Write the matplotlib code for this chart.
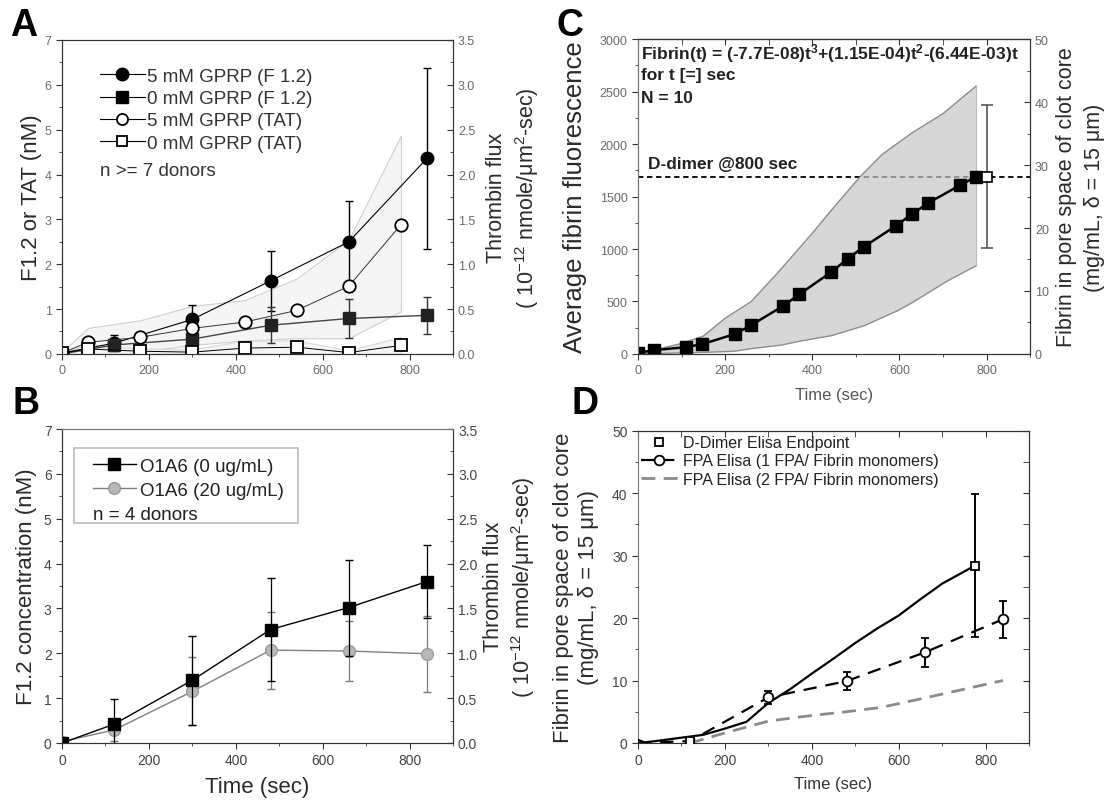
import matplotlib
matplotlib.use("Agg")
import matplotlib.pyplot as plt
import numpy as np
from matplotlib.lines import Line2D
from matplotlib.patches import Rectangle
from matplotlib.ticker import MultipleLocator, FormatStrFormatter

# =========================================================
# Global style
# =========================================================
plt.rcParams['font.family'] = ['Liberation Sans', 'DejaVu Sans']
plt.rcParams['mathtext.fontset'] = 'custom'
plt.rcParams['mathtext.rm'] = 'Liberation Sans'
plt.rcParams['mathtext.bf'] = 'Liberation Sans:bold'
plt.rcParams['mathtext.default'] = 'regular'

TICK_GRAY = '#6a6a6a'
TEXT_DARK = '#2a2a2a'
FLUX_LABEL = "Thrombin flux\n( 10$^{-12}$ nmole/\u03bcm$^{2}$-sec)"
PORE_LABEL = "Fibrin in pore space of clot core\n(mg/mL, \u03b4 = 15 \u03bcm)"

# =========================================================
# Data - panel A (thrombin generation with / without GPRP)
# =========================================================
t_f12 = [0, 120, 300, 480, 660, 840]
f12_5mm = [0.02, 0.24, 0.77, 1.63, 2.50, 4.36]
f12_5mm_err = [0.0, 0.18, 0.32, 0.67, 0.92, 2.02]
f12_0mm = [0.0, 0.20, 0.33, 0.64, 0.79, 0.86]
f12_0mm_err = [0.0, 0.10, 0.20, 0.40, 0.43, 0.42]

t_tat = [0, 60, 180, 300, 420, 540, 660, 780]
tat_5mm = [0.02, 0.26, 0.37, 0.57, 0.71, 0.97, 1.51, 2.88]
tat_0mm = [0.02, 0.11, 0.06, 0.04, 0.13, 0.15, 0.03, 0.19]
tat_5mm_hi = [0.05, 0.58, 0.75, 1.07, 1.20, 1.68, 2.55, 4.87]
tat_5mm_lo = [0.0, 0.02, 0.05, 0.20, 0.30, 0.35, 0.35, 0.95]
tat_0mm_hi = [0.05, 0.20, 0.12, 0.10, 0.30, 0.30, 0.08, 0.38]
tat_0mm_lo = [0.0, 0.0, 0.0, 0.0, 0.0, 0.0, 0.0, 0.0]

# =========================================================
# Data - panel B (O1A6 antibody)
# =========================================================
t_b = [0, 120, 300, 480, 660, 840]
o1a6_0 = [0.0, 0.42, 1.40, 2.53, 3.02, 3.60]
o1a6_0_err = [0.0, 0.55, 0.99, 1.15, 1.07, 0.82]
o1a6_20 = [0.03, 0.29, 1.15, 2.07, 2.05, 1.99]
o1a6_20_err = [0.0, 0.24, 0.76, 0.86, 0.67, 0.85]

# =========================================================
# Data - panel C (fibrin fluorescence)
# =========================================================
t_c = [0, 37, 111, 148, 222, 259, 333, 370, 444, 481, 518, 592, 629, 666, 740, 776]
fluor_c = [11, 36, 65, 94, 189, 272, 457, 568, 781, 906, 1020, 1221, 1333, 1438, 1610, 1689]
t_band_hi = [0, 50, 100, 150, 200, 260, 320, 400, 450, 510, 560, 630, 700, 776]
band_hi = [0, 50, 100, 170, 340, 500, 770, 1150, 1400, 1690, 1900, 2110, 2290, 2553]
t_band_lo = [0, 150, 220, 260, 330, 370, 445, 520, 595, 630, 710, 776]
band_lo = [0, 15, 25, 50, 85, 120, 175, 270, 410, 490, 695, 840]
ddimer_t = [800]
ddimer_c = [1689]
ddimer_c_err = [680]
DDIMER_LEVEL = 1685

# =========================================================
# Data - panel D (fibrin in pore space)
# =========================================================
t_d_fit = [0, 15, 40, 100, 150, 200, 250, 300, 350, 400, 450, 500, 550, 600, 650, 700, 776]
fibrin_d_fit = [0.5, 0.1, 0.3, 0.85, 1.3, 2.3, 3.4, 6.4, 8.6, 11.1, 13.5, 16.0, 18.3, 20.4, 23.0, 25.5, 28.4]
t_ddimer_d = [120, 776]
ddimer_d = [0.3, 28.4]
ddimer_d_err = [0.0, 11.4]
t_fpa1 = [0, 120, 300, 480, 660, 840]
fpa1 = [0.0, 0.3, 7.3, 9.9, 14.5, 19.8]
fpa1_err = [0.0, 0.0, 1.1, 1.45, 2.3, 3.0]
t_fpa2 = [120, 200, 300, 400, 480, 560, 660, 750, 840]
fpa2 = [0.0, 1.6, 3.5, 4.4, 5.0, 5.7, 7.2, 8.6, 10.0]


def style_axis(ax, tick_color, labelsize):
    ax.tick_params(axis='both', which='both', colors='#333333', labelcolor=tick_color,
                   labelsize=labelsize)
    ax.tick_params(which='major', length=4)
    ax.tick_params(which='minor', length=2.5)
    for s in ax.spines.values():
        s.set_color('#333333')


def time_axis(ax):
    ax.set_xlim(0, 900)
    ax.xaxis.set_major_locator(MultipleLocator(200))
    ax.xaxis.set_minor_locator(MultipleLocator(100))


def inner_top_ticks(ax):
    sec = ax.secondary_xaxis('top')
    sec.xaxis.set_major_locator(MultipleLocator(200))
    sec.xaxis.set_minor_locator(MultipleLocator(100))
    sec.tick_params(which='both', direction='in', labeltop=False, colors='#333333')
    sec.tick_params(which='major', length=4)
    sec.tick_params(which='minor', length=4)
    return sec


# =========================================================
# Figure
# =========================================================
fig = plt.figure(figsize=(11.14, 8.03), dpi=100)

pos_a = [0.0557, 0.558, 0.351, 0.391]
pos_b = [0.0557, 0.0735, 0.351, 0.391]
pos_c = [0.5727, 0.558, 0.352, 0.392]
pos_d = [0.5727, 0.0735, 0.351, 0.389]

# ---------------------------------------------------------
# Panel A
# ---------------------------------------------------------
ax = fig.add_axes(pos_a)
ax.fill_between(t_tat, tat_5mm_lo, tat_5mm_hi, facecolor='#f5f5f5', edgecolor='#cfcfcf', lw=0.8, zorder=1)
ax.fill_between(t_tat, tat_0mm_lo, tat_0mm_hi, facecolor='#f5f5f5', edgecolor='#d8d8d8', lw=0.8, zorder=1)
ax.errorbar(t_f12, f12_5mm, yerr=f12_5mm_err, color='black', lw=0.8, marker='o', ms=9,
            mfc='black', mec='black', ecolor='black', elinewidth=1, capsize=3, zorder=4)
ax.errorbar(t_f12, f12_0mm, yerr=f12_0mm_err, color='#444444', lw=1, marker='s', ms=8,
            mfc='#222222', mec='#222222', ecolor='#333333', elinewidth=1, capsize=3, zorder=4)
ax.plot(t_tat, tat_5mm, color='#333333', lw=0.7, marker='o', ms=9, mfc='white', mec='black', mew=1.3, zorder=5)
ax.plot(t_tat, tat_0mm, color='black', lw=0.7, marker='s', ms=8, mfc='white', mec='black', mew=1.3, zorder=5)
time_axis(ax)
ax.set_ylim(0, 7)
ax.yaxis.set_major_locator(MultipleLocator(1))
ax.yaxis.set_minor_locator(MultipleLocator(0.5))
style_axis(ax, TICK_GRAY, 9)
ax.set_ylabel("F1.2 or TAT (nM)", fontsize=16, color=TEXT_DARK, labelpad=2)

handles_a = [
    Line2D([], [], color='black', lw=0.8, marker='o', ms=9, mfc='black', mec='black'),
    Line2D([], [], color='black', lw=0.8, marker='s', ms=8, mfc='black', mec='black'),
    Line2D([], [], color='black', lw=0.8, marker='o', ms=8, mfc='white', mec='black', mew=1.3),
    Line2D([], [], color='black', lw=0.8, marker='s', ms=7, mfc='white', mec='black', mew=1.3),
]
labels_a = ["5 mM GPRP (F 1.2)", "0 mM GPRP (F 1.2)", "5 mM GPRP (TAT)", "0 mM GPRP (TAT)"]
ax.legend(handles_a, labels_a, loc='upper left', bbox_to_anchor=(0.097, 0.912), frameon=False,
          fontsize=13.5, handlelength=2.4, handletextpad=0.1, labelspacing=0.28, borderpad=0,
          borderaxespad=0, labelcolor='#333333')
ax.text(0.097, 0.585, "n >= 7 donors", transform=ax.transAxes, fontsize=13.5, color='#333333',
        va='center', ha='left')

ax2 = ax.twinx()
ax2.set_ylim(0, 3.5)
ax2.yaxis.set_major_locator(MultipleLocator(0.5))
ax2.yaxis.set_minor_locator(MultipleLocator(0.25))
ax2.yaxis.set_major_formatter(FormatStrFormatter('%.1f'))
style_axis(ax2, TICK_GRAY, 9)
ax2.tick_params(axis='y', which='both', direction='in')
ax2.set_ylabel(FLUX_LABEL, fontsize=15.5, color=TEXT_DARK, labelpad=8, linespacing=1.25)

fig.text(0.009, 0.955, "A", fontsize=27, fontweight='bold', color='black')

# ---------------------------------------------------------
# Panel B
# ---------------------------------------------------------
ax = fig.add_axes(pos_b)
ax.errorbar(t_b, o1a6_0, yerr=o1a6_0_err, color='black', lw=1, marker='s', ms=8,
            mfc='black', mec='black', ecolor='black', elinewidth=0.9, capsize=3, zorder=4)
ax.errorbar(t_b, o1a6_20, yerr=o1a6_20_err, color='#808080', lw=1, marker='o', ms=8.5,
            mfc='#b8b8b8', mec='#9a9a9a', ecolor='#7a7a7a', elinewidth=0.9, capsize=3, zorder=3)
time_axis(ax)
ax.set_ylim(0, 7)
ax.yaxis.set_major_locator(MultipleLocator(1))
ax.yaxis.set_minor_locator(MultipleLocator(0.5))
style_axis(ax, '#444444', 10)
ax.spines['top'].set_color('#777777')
ax.set_ylabel("F1.2 concentration (nM)", fontsize=16, color=TEXT_DARK, labelpad=5)
ax.set_xlabel("Time (sec)", fontsize=16, color=TEXT_DARK, labelpad=6)

ax.add_patch(Rectangle((0.031, 0.70), 0.573, 0.239, transform=ax.transAxes, facecolor='white',
                       edgecolor='#bdbdbd', lw=1.2, zorder=6))
handles_b = [
    Line2D([], [], color='black', lw=1, marker='s', ms=8, mfc='black', mec='black'),
    Line2D([], [], color='#808080', lw=1, marker='o', ms=8.5, mfc='#b8b8b8', mec='#9a9a9a'),
]
leg = ax.legend(handles_b, ["O1A6 (0 ug/mL)", "O1A6 (20 ug/mL)"], loc='upper left',
                bbox_to_anchor=(0.078, 0.908), frameon=False, fontsize=13.5, handlelength=2.3,
                handletextpad=0.25, labelspacing=0.35, borderpad=0, borderaxespad=0,
                labelcolor='#222222')
leg.set_zorder(7)
ax.text(0.078, 0.729, "n = 4 donors", transform=ax.transAxes, fontsize=13.5, color='#222222',
        va='center', ha='left', zorder=7)

ax2 = ax.twinx()
ax2.set_ylim(0, 3.5)
ax2.yaxis.set_major_locator(MultipleLocator(0.5))
ax2.yaxis.set_minor_locator(MultipleLocator(0.25))
ax2.yaxis.set_major_formatter(FormatStrFormatter('%.1f'))
style_axis(ax2, '#444444', 10)
ax2.spines['top'].set_color('#777777')
ax2.tick_params(axis='y', which='both', direction='in')
ax2.set_ylabel(FLUX_LABEL, fontsize=15.5, color=TEXT_DARK, labelpad=4, linespacing=1.25)

fig.text(0.011, 0.484, "B", fontsize=27, fontweight='bold', color='black')

# ---------------------------------------------------------
# Panel C
# ---------------------------------------------------------
ax = fig.add_axes(pos_c)
ax.axhline(DDIMER_LEVEL, color='black', lw=1.3, ls=(0, (3, 2)), zorder=1)
t_grid = sorted(set(t_band_hi) | set(t_band_lo))
hi_g = np.interp(t_grid, t_band_hi, band_hi)
lo_g = np.interp(t_grid, t_band_lo, band_lo)
ax.fill_between(t_grid, lo_g, hi_g, facecolor='#c6c6c6', alpha=0.7, edgecolor='none', zorder=2)
ax.plot(t_band_hi, band_hi, color='#8c8c8c', lw=1, zorder=3)
ax.plot(t_band_lo, band_lo, color='#8c8c8c', lw=1, zorder=3)
ax.plot([t_band_hi[-1], t_band_hi[-1]], [band_lo[-1], band_hi[-1]], color='#bcbcbc', lw=0.8, zorder=3)
ax.plot(t_c, fluor_c, color='black', lw=1.8, marker='s', ms=8, mfc='black', mec='black', zorder=4)
ax.errorbar(ddimer_t, ddimer_c, yerr=ddimer_c_err, color='#555555', lw=0, marker='s', ms=7,
            mfc='white', mec='black', mew=1.2, ecolor='#555555', elinewidth=1.2, capsize=4, zorder=5)
time_axis(ax)
ax.set_ylim(0, 3000)
ax.yaxis.set_major_locator(MultipleLocator(500))
ax.yaxis.set_minor_locator(MultipleLocator(250))
style_axis(ax, TICK_GRAY, 9)
ax.spines['left'].set_color('#777777')
inner_top_ticks(ax)
ax.set_ylabel("Average fibrin fluorescence", fontsize=18.5, color=TEXT_DARK, labelpad=9)
ax.set_xlabel("Time (sec)", fontsize=12, color='#555555', labelpad=8)
ax.text(0.008, 0.957, "Fibrin(t) = (-7.7E-08)t$^{3}$+(1.15E-04)t$^{2}$-(6.44E-03)t",
        transform=ax.transAxes, fontsize=12.5, fontweight='bold', color='#222222', va='center')
ax.text(0.008, 0.887, "for t [=] sec", transform=ax.transAxes, fontsize=12.5,
        fontweight='bold', color='#222222', va='center')
ax.text(0.008, 0.815, "N = 10", transform=ax.transAxes, fontsize=12.5,
        fontweight='bold', color='#222222', va='center')
ax.text(0.025, 0.605, "D-dimer @800 sec", transform=ax.transAxes, fontsize=12.4,
        fontweight='bold', color='#222222', va='center')

ax2 = ax.twinx()
ax2.set_ylim(0, 50)
ax2.yaxis.set_major_locator(MultipleLocator(10))
ax2.yaxis.set_minor_locator(MultipleLocator(5))
style_axis(ax2, TICK_GRAY, 9)
ax2.tick_params(axis='y', which='both', direction='in')
ax2.spines['left'].set_color('#777777')
ax2.set_ylabel(PORE_LABEL, fontsize=15.5, color=TEXT_DARK, labelpad=5, linespacing=1.45)

fig.text(0.500, 0.955, "C", fontsize=27, fontweight='bold', color='black')

# ---------------------------------------------------------
# Panel D
# ---------------------------------------------------------
ax = fig.add_axes(pos_d)
ax.plot(t_d_fit, fibrin_d_fit, color='black', lw=1.6, zorder=3)
ax.plot(t_fpa2, fpa2, color='#8a8a8a', lw=2, dashes=(5, 3), zorder=2)
ax.plot(t_fpa1, fpa1, color='black', lw=1.6, dashes=(6, 4), zorder=3)
ax.errorbar(t_fpa1[2:], fpa1[2:], yerr=fpa1_err[2:], lw=0, marker='o', ms=7, mfc='white',
            mec='black', mew=1.3, ecolor='black', elinewidth=1.4, capsize=3, zorder=5)
ax.errorbar(t_ddimer_d, ddimer_d, yerr=ddimer_d_err, lw=0, marker='s', ms=6, mfc='white',
            mec='black', mew=1.3, ecolor='black', elinewidth=1.4, capsize=3, zorder=5)
time_axis(ax)
ax.set_ylim(0, 50)
ax.yaxis.set_major_locator(MultipleLocator(10))
ax.yaxis.set_minor_locator(MultipleLocator(5))
style_axis(ax, '#444444', 10)
ax.spines['left'].set_color('#777777')
inner_top_ticks(ax)
sec_r = ax.secondary_yaxis('right')
sec_r.yaxis.set_major_locator(MultipleLocator(10))
sec_r.yaxis.set_minor_locator(MultipleLocator(5))
sec_r.tick_params(which='both', direction='in', labelright=False, colors='#333333', length=4)
ax.set_ylabel(PORE_LABEL, fontsize=16, color=TEXT_DARK, labelpad=9, linespacing=1.3)
ax.set_xlabel("Time (sec)", fontsize=12, color='#333333', labelpad=6)

handles_d = [
    Line2D([], [], lw=0, marker='s', ms=6, mfc='white', mec='black', mew=1.3),
    Line2D([], [], color='black', lw=1.6, dashes=(6, 3), marker='o', ms=7, mfc='white', mec='black', mew=1.3),
    Line2D([], [], color='#8a8a8a', lw=2, dashes=(5, 3)),
]
labels_d = ["D-Dimer Elisa Endpoint", "FPA Elisa (1 FPA/ Fibrin monomers)",
            "FPA Elisa (2 FPA/ Fibrin monomers)"]
ax.legend(handles_d, labels_d, loc='upper left', bbox_to_anchor=(0.008, 0.985), frameon=False,
          fontsize=11.5, handlelength=2.25, handletextpad=0.4, labelspacing=0.2, borderpad=0,
          borderaxespad=0, labelcolor='#222222')

fig.text(0.513, 0.484, "D", fontsize=27, fontweight='bold', color='black')

plt.savefig("out.png", dpi=100)
